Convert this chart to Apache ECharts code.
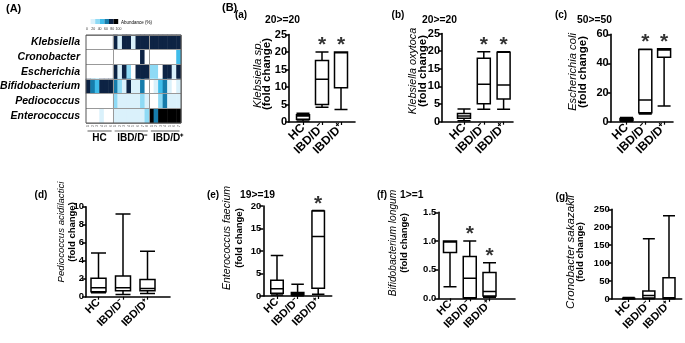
<!DOCTYPE html>
<html><head><meta charset="utf-8">
<script src="https://cdn.jsdelivr.net/npm/echarts@6/dist/echarts.min.js"></script>
<style>html,body{margin:0;padding:0;background:#fff}#c{width:685px;height:343px}</style>
</head><body><div id="c"></div>
<script>
// ---------- DATA ----------
const genera = ['Klebsiella','Cronobacter','Escherichia','Bifidobacterium','Pediococcus','Enterococcus'];
const hcSamples = ['H1','H2','H3','H4','H5','H6'];
const dNegSamples = ['N1','N2','N3','N4','N5','N6','N7','N8'];
const dPosSamples = ['P1','P2','P3','P4','P5','P6','P7'];
const groupNames = ['HC','IBD/D⁻','IBD/D⁺'];
// abundance (%) per genus, columns: HC(6) | IBD/D-(8) | IBD/D+(7)
const klebsiellaAbund     = [0,0,0,0,0,0,  90,10,90,90,20,90,90,90,  90,90,90,90,90,90,90];
const cronobacterAbund    = [0,0,0,0,0,0,  0,0,0,0,0,0,90,0,         0,0,0,0,0,0,50];
const escherichiaAbund    = [0,0,0,0,0,0,  90,10,90,30,0,90,90,90,   30,30,0,90,90,10,90];
const bifidobacteriumAbund= [90,70,50,90,90,90, 70,30,10,90,10,10,70,0, 0,10,50,70,10,0,10];
const pediococcusAbund    = [0,0,0,0,0,0,  30,10,10,10,10,10,30,10,  0,0,30,70,10,10,10];
const enterococcusAbund   = [0,0,0,10,0,0, 10,10,10,10,10,10,10,30,  100,70,100,100,100,100,100];
const legendTicks = ['0','20','40','60','80','100'];

const boxCats = ['HC','IBD/D⁻','IBD/D⁺'];
// [min, Q1, median, Q3, max] fold change
const klebsiellaSp = [[0.3,0.8,1.7,2.1,2.5],[4.2,5.0,12.2,17.6,20],[3.6,9.8,19.8,20,20]];
const klebsiellaOxytoca = [[0.3,1.0,1.6,2.3,3.6],[3.5,5.1,10.6,18.0,19.8],[3.5,6.4,10.4,19.7,19.8]];
const escherichiaColi = [[0.3,0.8,1.5,2.2,2.8],[5.3,6.2,14.9,49.6,49.8],[10.8,44.2,49.2,50,50]];
const pediococcusAcidilactici = [[0.45,0.56,1.0,2.05,4.85],[0.25,0.65,1.0,2.3,9.2],[0.35,0.65,0.9,1.9,5.05]];
const enterococcusFaecium = [[0.2,0.6,1.6,3.5,9],[0.05,0.2,0.5,0.8,2.6],[0.4,1.7,13.2,18.9,19]];
const bifidobacteriumLongum = [[0.2,0.8,0.98,1.0,1.0],[0,0.01,0.35,0.73,1.0],[0.02,0.04,0.12,0.45,0.62]];
const cronobacterSakazakii = [[0,0.5,1,2,4],[0.5,3,10,22,168],[0.5,1.5,3.5,59,232]];
// significance stars (1 = marked)
const klebsiellaSpStars = [0,1,1];
const klebsiellaOxytocaStars = [0,1,1];
const escherichiaColiStars = [0,1,1];
const pediococcusStars = [0,0,0];
const enterococcusStars = [0,0,1];
const bifidobacteriumStars = [0,1,1];
const cronobacterStars = [0,0,0];
// y axis ranges
const yMax = {a:25,b:25,c:60,d:10,e:20,f:1.5,g:250};
const yStep = {a:5,b:5,c:20,d:2,e:5,f:0.5,g:50};
const capNotes = {a:'20>=20',b:'20>=20',c:'50>=50',e:'19>=19',f:'1>=1'};

// ---------- LAYOUT ----------
const FF = '"Liberation Sans", Arial, Helvetica, sans-serif';
const panels = [
 {id:'a', data:klebsiellaSp, stars:klebsiellaSpStars, sp:'Klebsiella sp.', axisX:289, axisEnd:355, top:34.5, y0:122, c0:303, slot:19, bw:13, tf:11, xf:12, nx:258, fx:267, ny:74, nf:11.5, ff:11.5, lx:241, ly:15, cx:265, cy:20},
 {id:'b', data:klebsiellaOxytoca, stars:klebsiellaOxytocaStars, sp:'Klebsiella oxytoca', axisX:442, axisEnd:513, top:33.5, y0:121.7, c0:464, slot:19.8, bw:13, tf:11, xf:12, nx:412.5, fx:422.5, ny:71, nf:10.8, ff:11.5, lx:398, ly:15, cx:422, cy:20},
 {id:'c', data:escherichiaColi, stars:escherichiaColiStars, sp:'Escherichia coli', axisX:610.7, axisEnd:673, top:34.3, y0:121.7, c0:626.5, slot:18.8, bw:13, tf:11, xf:12, nx:572.5, fx:582.5, ny:72, nf:11.2, ff:11.5, lx:561, ly:15, cx:577, cy:20},
 {id:'d', data:pediococcusAcidilactici, stars:pediococcusStars, sp:'Pediococcus acidilactici', axisX:86, axisEnd:170, top:206.7, y0:296.7, c0:98.5, slot:24.5, bw:15, tf:9.5, xf:11, nx:61, fx:72, ny:232, nf:9.6, ff:9.5, lx:41, ly:195},
 {id:'e', data:enterococcusFaecium, stars:enterococcusStars, sp:'Enterococcus faecium', axisX:263.3, axisEnd:331.7, top:206, y0:296, c0:277, slot:20.6, bw:12.5, tf:9.5, xf:11, nx:227, fx:239, ny:238, nf:10.6, ff:9.5, lx:213, ly:195, cx:240, cy:195},
 {id:'f', data:bifidobacteriumLongum, stars:bifidobacteriumStars, sp:'Bifidobacterium longum', axisX:438.3, axisEnd:515, top:212.3, y0:298.3, c0:450, slot:19.75, bw:13, tf:9.5, xf:11, nx:393, fx:404, ny:243, nf:10.2, ff:9.5, lx:382, ly:195, cx:400, cy:195},
 {id:'g', data:cronobacterSakazakii, stars:cronobacterStars, sp:'Cronobacter sakazakii', axisX:611.7, axisEnd:681.7, top:209.3, y0:299, c0:628.7, slot:20.15, bw:12, tf:9.5, xf:11, nx:571, fx:580.5, ny:252, nf:11.5, ff:9.5, lx:562, ly:197}
];

const chart = echarts.init(document.getElementById('c'), null, {renderer:'canvas'});
const grids = [], xAxes = [], yAxes = [], series = [], graphics = [];

// ---------- HEATMAP ----------
const HM = {left:86, top:35, width:95, height:88};
const samples = hcSamples.concat(dNegSamples, dPosSamples);
const abundRows = [klebsiellaAbund, cronobacterAbund, escherichiaAbund, bifidobacteriumAbund, pediococcusAbund, enterococcusAbund];
const heatData = [];
abundRows.forEach((row, r) => row.forEach((v, c) => heatData.push([c, r, v])));
const bounds = [0, hcSamples.length, hcSamples.length + dNegSamples.length, samples.length];
grids.push({left:HM.left, top:HM.top, width:HM.width, height:HM.height, show:true, borderColor:'#555', borderWidth:1, backgroundColor:'transparent', z:5, outerBoundsMode:'none'});
xAxes.push({type:'category', gridIndex:0, data:samples, z:4,
  axisLine:{show:false}, axisTick:{show:false},
  axisLabel:{fontSize:3.5, color:'#555', rotate:90, margin:2, interval:0, formatter:v=>v.replace(/\D/g,'')},
  splitLine:{show:true, interval:(i)=>bounds.indexOf(i)>0 && i<samples.length, lineStyle:{color:'#999', width:1}}});
yAxes.push({type:'category', gridIndex:0, data:genera, inverse:true, z:4,
  axisLine:{show:false}, axisTick:{show:false},
  axisLabel:{fontSize:10.5, fontWeight:'bold', fontStyle:'italic', color:'#000', fontFamily:FF, margin:6},
  splitLine:{show:true, lineStyle:{color:'#999', width:1}}});
series.push({type:'heatmap', xAxisIndex:0, yAxisIndex:0, data:heatData, silent:true, itemStyle:{borderWidth:0}});

// ---------- BOX PANELS ----------
panels.forEach((p) => {
  const fi = grids.length;
  const h = p.y0 - p.top;
  grids.push({left:p.axisX, top:p.top, width:p.axisEnd - p.axisX, height:h, outerBoundsMode:'none'});
  grids.push({left:p.c0 - p.slot/2, top:p.top, width:p.slot*3, height:h, outerBoundsMode:'none'});
  const mx = yMax[p.id], st = yStep[p.id];
  xAxes.push({type:'value', gridIndex:fi, min:0, max:1, axisLine:{show:true, lineStyle:{color:'#000', width:1.6}}, axisTick:{show:false}, axisLabel:{show:false}, splitLine:{show:false}});
  yAxes.push({type:'value', gridIndex:fi, min:0, max:mx, interval:st,
    axisLine:{show:true, lineStyle:{color:'#000', width:1.6}},
    axisTick:{show:true, length:4, lineStyle:{color:'#000', width:1.5}},
    axisLabel:{fontSize:p.tf, fontWeight:'bold', color:'#000', fontFamily:FF, margin:2,
      formatter: v => (st < 1 ? v.toFixed(1) : String(v))},
    splitLine:{show:false}});
  xAxes.push({type:'category', gridIndex:fi+1, data:boxCats,
    axisLine:{show:false}, axisTick:{show:true, alignWithLabel:true, length:3, lineStyle:{color:'#000', width:1.2}},
    axisLabel:{rotate:45, fontSize:p.xf, fontWeight:'bold', color:'#000', fontFamily:FF, margin:4, interval:0}});
  yAxes.push({type:'value', gridIndex:fi+1, min:0, max:mx, show:false});
  series.push({type:'boxplot', xAxisIndex:fi+1, yAxisIndex:fi+1, data:p.data, silent:true,
    boxWidth:[p.bw, p.bw],
    itemStyle:{color:'#fff', borderColor:'#000', borderWidth:1.5}});
  const starData = [];
  p.stars.forEach((s, i) => { if (s) starData.push([boxCats[i], p.data[i][4]]); });
  if (starData.length) series.push({type:'scatter', xAxisIndex:fi+1, yAxisIndex:fi+1, data:starData, symbolSize:0, silent:true,
    label:{show:true, formatter:'*', position:'top', distance:-4, fontSize:21, fontWeight:'bold', color:'#000', fontFamily:FF}});
  graphics.push({type:'text', x:p.nx, y:p.ny, rotation:Math.PI/2, style:{text:p.sp, font:'italic '+p.nf+'px '+FF, fill:'#000', align:'center', verticalAlign:'middle', textAlign:'center', textVerticalAlign:'middle'}});
  graphics.push({type:'text', x:p.fx, y:p.ny, rotation:Math.PI/2, style:{text:'(fold change)', font:'bold '+p.ff+'px '+FF, fill:'#000', align:'center', verticalAlign:'middle', textAlign:'center', textVerticalAlign:'middle'}});
  graphics.push({type:'text', x:p.lx, y:p.ly, style:{text:'('+p.id+')', font:'bold 10px '+FF, fill:'#000', align:'center', verticalAlign:'middle', textAlign:'center', textVerticalAlign:'middle'}});
  if (capNotes[p.id]) graphics.push({type:'text', x:p.cx, y:p.cy, style:{text:capNotes[p.id], font:'bold 10.3px '+FF, fill:'#000', align:'left', verticalAlign:'middle', textAlign:'left', textVerticalAlign:'middle'}});
});

graphics.push({type:'text', x:6, y:9, style:{text:'(A)', font:'bold 11px '+FF, fill:'#000', align:'left', verticalAlign:'middle', textAlign:'left', textVerticalAlign:'middle'}});
graphics.push({type:'text', x:222, y:8, style:{text:'(B)', font:'bold 11px '+FF, fill:'#000', align:'left', verticalAlign:'middle', textAlign:'left', textVerticalAlign:'middle'}});

const colW = HM.width / samples.length;
const groupShift = [0, 1, 3];
for (let g = 0; g < 3; g++) {
  const x1 = HM.left + bounds[g]*colW, x2 = HM.left + bounds[g+1]*colW;
  graphics.push({type:'line', shape:{x1:x1+1.5, y1:131, x2:x2-1.5, y2:131}, style:{stroke:'#777', lineWidth:1.2}});
  graphics.push({type:'text', x:(x1+x2)/2 + groupShift[g], y:138.5, style:{text:groupNames[g], font:'bold 10px '+FF, fill:'#000', align:'center', verticalAlign:'middle', textAlign:'center', textVerticalAlign:'middle'}});
}
legendTicks.forEach((t, i) => {
  graphics.push({type:'text', x:HM.left + 1 + i*6.3, y:29, style:{text:t, font:'3.5px '+FF, fill:'#333', align:'center', verticalAlign:'middle', textAlign:'center', textVerticalAlign:'middle'}});
});
graphics.push({type:'text', x:121, y:22.5, style:{text:'Abundance (%)', font:'4.5px '+FF, fill:'#000', align:'left', verticalAlign:'middle', textAlign:'left', textVerticalAlign:'middle'}});

const option = {
  animation:false,
  backgroundColor:'#fff',
  textStyle:{fontFamily:FF},
  grid:grids, xAxis:xAxes, yAxis:yAxes, series:series,
  visualMap:{type:'piecewise', seriesIndex:0, orient:'horizontal', left:HM.left, top:19, padding:0,
    itemWidth:4.6, itemHeight:5, itemGap:0, showLabel:false, itemSymbol:'rect', selectedMode:false,
    pieces:[
      {value:0, color:'#ffffff'},
      {gt:0, lte:20, color:'#daf1fb'},
      {gt:20, lte:40, color:'#8edaf5'},
      {gt:40, lte:60, color:'#3fbcea'},
      {gt:60, lte:80, color:'#167cab'},
      {gt:80, lte:95, color:'#0d2344'},
      {gt:95, color:'#000000'}
    ]},
  graphic:graphics
};
chart.setOption(option);
</script></body></html>
